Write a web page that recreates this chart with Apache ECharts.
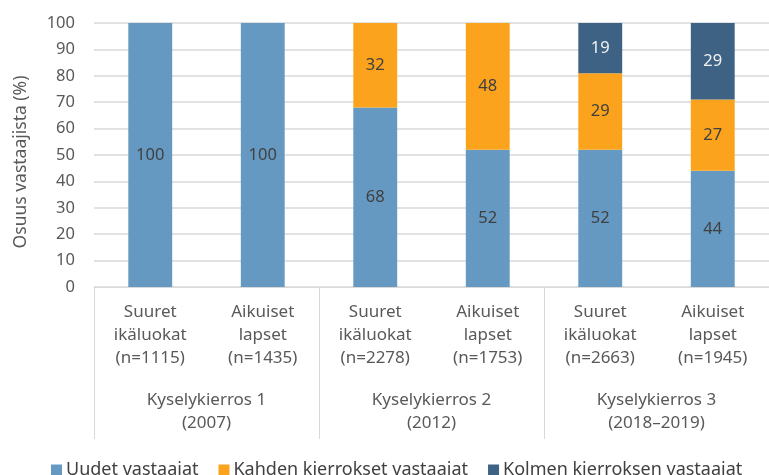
<!DOCTYPE html>
<html>
<head>
<meta charset="utf-8">
<script src="https://cdn.jsdelivr.net/npm/echarts@6/dist/echarts.min.js"></script>
<style>
  html, body { margin: 0; padding: 0; background: #fff; }
  #chart { width: 769px; height: 475px; }
</style>
</head>
<body>
<div id="chart"></div>
<script>
const categories = [
  'Suuret\nikäluokat\n(n=1115)',
  'Aikuiset\nlapset\n(n=1435)',
  'Suuret\nikäluokat\n(n=2278)',
  'Aikuiset\nlapset\n(n=1753)',
  'Suuret\nikäluokat\n(n=2663)',
  'Aikuiset\nlapset\n(n=1945)'
]
const rounds = ['Kyselykierros 1\n(2007)', 'Kyselykierros 2\n(2012)', 'Kyselykierros 3\n(2018–2019)']
const uudet = [100, 100, 68, 52, 52, 44]
const kahden = [null, null, 32, 48, 29, 27]
const kolmen = [null, null, null, null, 19, 29]
const seriesNames = ['Uudet vastaajat', 'Kahden kierrokset vastaajat', 'Kolmen kierroksen vastaajat']
const colors = ['#6599C2', '#FBA31C', '#3E6283']

const font = 'Noto Sans'
const chart = echarts.init(document.getElementById('chart'))

const barSeries = (name, data, color, labelColor) => ({
  name: name,
  type: 'bar',
  stack: 'total',
  xAxisIndex: 0,
  barWidth: '39%',
  data: data,
  itemStyle: { color: color },
  label: {
    show: true,
    position: 'inside',
    fontFamily: font,
    fontSize: 16.5,
    color: labelColor
  }
})

chart.setOption({
  animation: false,
  textStyle: { fontFamily: font },
  grid: { left: 94, top: 23, width: 683, height: 264, containLabel: false },
  legend: {
    data: seriesNames,
    left: 46,
    top: 456,
    icon: 'rect',
    itemWidth: 11,
    itemHeight: 11,
    itemGap: 20,
    textStyle: { fontFamily: font, fontSize: 18, color: '#404040', padding: [0, 0, 0, -1] }
  },
  xAxis: [
    {
      type: 'category',
      data: categories,
      position: 'bottom',
      axisLine: { lineStyle: { color: '#d9d9d9' } },
      axisTick: { show: false },
      axisLabel: {
        interval: 0,
        margin: 14,
        fontFamily: font,
        fontSize: 17,
        lineHeight: 23,
        color: '#595959'
      }
    },
    {
      type: 'category',
      data: rounds,
      position: 'bottom',
      axisLine: { show: false },
      axisTick: { show: true, length: 152, interval: 0, lineStyle: { color: '#d9d9d9' } },
      axisLabel: {
        interval: 0,
        margin: 102,
        fontFamily: font,
        fontSize: 17,
        lineHeight: 23,
        color: '#595959'
      }
    }
  ],
  yAxis: {
    type: 'value',
    min: 0,
    max: 100,
    interval: 10,
    name: 'Osuus vastaajista (%)',
    nameLocation: 'middle',
    nameGap: 64,
    nameTextStyle: { fontFamily: font, fontSize: 17.5, color: '#595959', padding: [0, 14, 0, 0] },
    axisLine: { show: false },
    axisTick: { show: false },
    axisLabel: { margin: 19, fontFamily: font, fontSize: 16.5, color: '#595959' },
    splitLine: { lineStyle: { color: '#d9d9d9', width: 1.5 } }
  },
  series: [
    barSeries(seriesNames[0], uudet, colors[0], '#404040'),
    barSeries(seriesNames[1], kahden, colors[1], '#404040'),
    barSeries(seriesNames[2], kolmen, colors[2], '#f2f2f2')
  ]
})
</script>
</body>
</html>
